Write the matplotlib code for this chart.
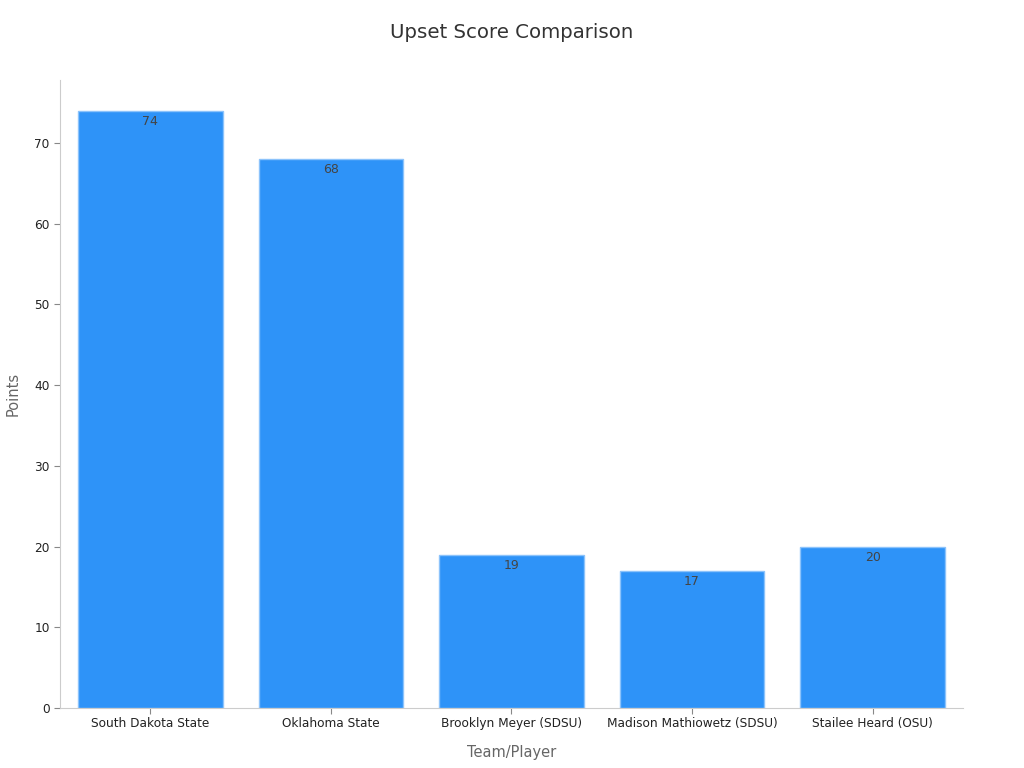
import matplotlib
matplotlib.use('Agg')
import matplotlib.pyplot as plt

categories = ['South Dakota State', 'Oklahoma State', 'Brooklyn Meyer (SDSU)',
              'Madison Mathiowetz (SDSU)', 'Stailee Heard (OSU)']
points = [74, 68, 19, 17, 20]

plt.rcParams['font.family'] = ['DejaVu Sans']

fig = plt.figure(figsize=(10.24, 7.68), dpi=100)
ax = fig.add_axes([0.0586, 0.078, 0.8818, 0.818])

x = list(range(len(categories)))
bars = ax.bar(x, points, width=0.8, color='#2E93F8', edgecolor='#8CC3FB', linewidth=1)

for xi, v in zip(x, points):
    ax.text(xi, v - 0.5, str(v), ha='center', va='top', fontsize=9, color='#444444')

ax.set_xlim(-0.5, 4.5)
ax.set_ylim(0, 77.8)
ax.set_xticks(x)
ax.set_xticklabels(categories, fontsize=8.7, color='#222222')
ax.set_yticks(range(0, 80, 10))
ax.tick_params(axis='y', labelsize=8.7, colors='#222222', length=4, color='#888888')
ax.tick_params(axis='x', length=4, color='#888888', pad=2.5)

for side in ['top', 'right']:
    ax.spines[side].set_visible(False)
for side in ['left', 'bottom']:
    ax.spines[side].set_color('#CCCCCC')

ax.set_xlabel('Team/Player', fontsize=10.5, color='#666666', labelpad=11)
ax.set_ylabel('Points', fontsize=10.5, color='#666666', labelpad=10)
fig.suptitle('Upset Score Comparison', fontsize=14.2, color='#333333', y=0.97)

fig.savefig('out.png', dpi=100)
